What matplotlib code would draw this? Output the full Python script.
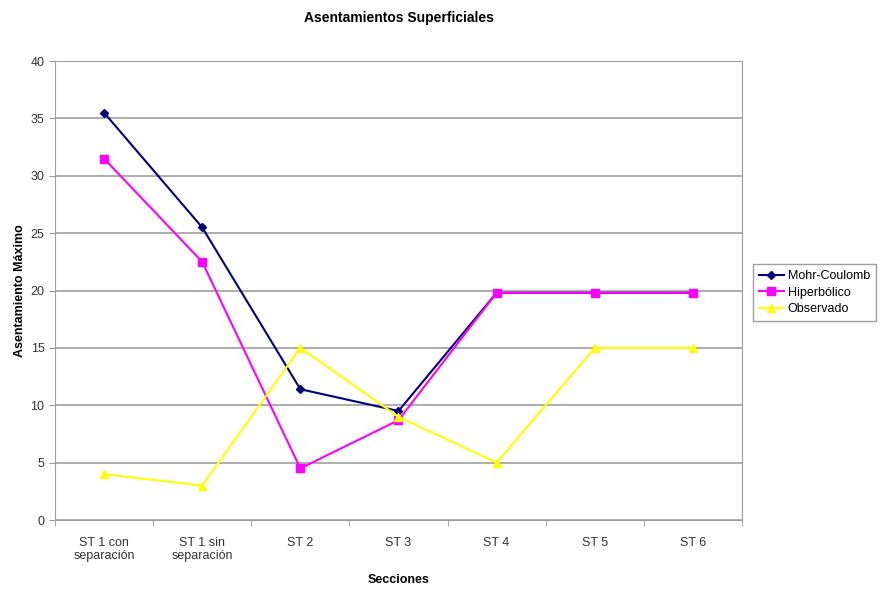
import matplotlib
matplotlib.use('Agg')
import matplotlib.pyplot as plt

plt.rcParams['font.family'] = ['Liberation Sans', 'DejaVu Sans']

secciones = ['ST 1 con\nseparación', 'ST 1 sin\nseparación', 'ST 2', 'ST 3', 'ST 4', 'ST 5', 'ST 6']
mohr_coulomb = [35.5, 25.5, 11.4, 9.5, 19.8, 19.8, 19.8]
hiperbolico = [31.5, 22.5, 4.5, 8.7, 19.8, 19.8, 19.8]
observado = [4, 3, 15, 9, 5, 15, 15]

fig = plt.figure(figsize=(8.81, 5.9), dpi=100)
ax = fig.add_axes([0.0624, 0.1186, 0.7798, 0.778])

x = list(range(len(secciones)))
ax.plot(x, mohr_coulomb, color='#000080', marker='D', markersize=4.5, linewidth=1.5, label='Mohr-Coulomb')
ax.plot(x, hiperbolico, color='#FF00FF', marker='s', markersize=5.5, linewidth=1.5, label='Hiperbólico')
ax.plot(x, observado, color='#FFFF00', marker='^', markersize=5.5, linewidth=1.5, label='Observado')

ax.set_xlim(-0.5, len(secciones) - 0.5)
ax.set_ylim(0, 40)
ax.set_yticks(range(0, 41, 5))
ax.set_xticks(x)
ax.set_xticklabels(secciones, fontsize=9, color='#333333')
ax.set_xticks([i - 0.5 for i in range(len(secciones) + 1)], minor=True)
ax.tick_params(axis='x', which='major', length=0, pad=12)
ax.tick_params(axis='x', which='minor', length=4, color='#999999', direction='out')
ax.tick_params(axis='y', length=4, color='#999999', labelsize=9, labelcolor='#333333')

ax.grid(axis='y', color='#a0a0a0', linewidth=1.2)
ax.set_axisbelow(True)
for s in ax.spines.values():
    s.set_color('#a0a0a0')

ax.set_title('Asentamientos Superficiales', fontsize=10, fontweight='bold', pad=28)
ax.set_xlabel('Secciones', fontsize=9, fontweight='bold', labelpad=8)
ax.set_ylabel('Asentamiento Máximo', fontsize=9, fontweight='bold', labelpad=3)

leg = ax.legend(loc='center left', bbox_to_anchor=(1.01, 0.495), fontsize=9, frameon=True,
                fancybox=False, edgecolor='#888888', handlelength=2.0, borderpad=0.5,
                labelspacing=0.35, handletextpad=0.3, borderaxespad=0.3)
leg.get_frame().set_linewidth(1.0)

fig.savefig('out.png', dpi=100)
